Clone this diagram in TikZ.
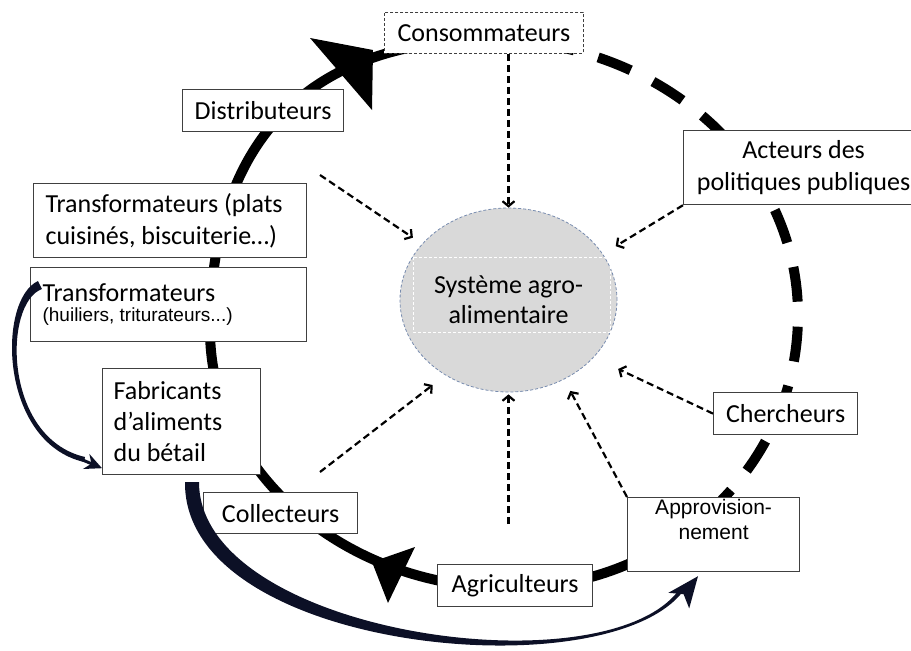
\documentclass[tikz,border=0pt]{standalone}
\usepackage{fontspec}
\setmainfont{Carlito}
\newfontfamily\arialfont{Liberation Sans}
\usetikzlibrary{arrows.meta,shapes.geometric}

\definecolor{sweepInk}{RGB}{12,16,38}
\definecolor{rimBlue}{RGB}{120,140,175}
\newcommand{\boxfont}{\fontsize{26}{32}\selectfont}

\tikzset{
  actor/.style={draw=black!75, line width=1.2pt, fill=white, anchor=north west,
    inner sep=0pt, align=center, font=\boxfont},
  influence/.style={line width=2.2pt, dash pattern=on 7pt off 4pt,
    -{Straight Barb[length=5pt,width=12pt]}},
  sweep/.style={fill=sweepInk},
  sweeptip/.style={draw=sweepInk, line width=3pt, -{Stealth[length=17pt,width=16pt]}},
}

\begin{document}
\begin{tikzpicture}[x=1pt,y=-1pt]
\useasboundingbox (0,0) rectangle (911,651);

% the chain loop, dashed on the right, solid on the left
\draw[line width=10pt, dash pattern=on 35pt off 25pt, dash phase=10pt]
  (490,40) .. controls (660,40) and (798,163) .. (798,315)
  .. controls (798,390.5) and (765.75,458.75) .. (713.6,508.1);
\draw[line width=10pt]
  (713.6,508.1) .. controls (661.5,557.5) and (589.5,588) .. (510,588)
  .. controls (344,588) and (210,471) .. (210,330)
  .. controls (210,140) and (310,40) .. (490,40);
\fill (310,38) -- (373,50) -- (372,110) -- cycle;
\fill (372,562) -- (415,547) -- (388,603) -- cycle;

% centre
\node[ellipse, minimum width=217pt, minimum height=184pt, inner sep=0pt,
  fill=black!15, draw=rimBlue, line width=0.8pt, densely dashed, align=center,
  font=\fontsize{26}{30}\selectfont] (sys) at (508.5,300) {Système agro-\\alimentaire};
\draw[white, densely dashed, line width=0.8pt] (413,257) rectangle (610,332);

% actors
\node[actor, densely dashed, line width=0.9pt, minimum width=199pt, minimum height=41pt]
  (conso) at (384,12) {Consommateurs};
\node[actor, minimum width=161pt, minimum height=42pt] (distri) at (182,89) {Distributeurs};
\node[actor, align=flush left, text width=249pt, inner xsep=12pt, minimum height=74pt]
  (transPlats) at (33,183) {Transformateurs (plats\\cuisinés, biscuiterie…)};
\node[actor, align=flush left, text width=252pt, inner xsep=12pt, minimum height=74pt,
  font=\fontsize{26}{20}\selectfont] (transHuile) at (30,267)
  {Transformateurs\\{\arialfont\fontsize{19}{20}\selectfont(huiliers, triturateurs...)}};
\node[actor, align=flush left, text width=136pt, inner xsep=11pt, minimum height=106pt,
  font=\fontsize{26}{31}\selectfont] (fab) at (102,368) {Fabricants\\d’aliments\\du bétail};
\node[actor, minimum width=154pt, minimum height=41pt] (collect) at (203,492) {Collecteurs};
\node[actor, minimum width=155pt, minimum height=42pt] (agri) at (437,564) {Agriculteurs};
\node[actor, minimum width=172pt, minimum height=74pt] (appro) at (627,497)
  {\parbox[c][74pt][t]{172pt}{\centering\vspace*{2pt}\arialfont\fontsize{21}{25}\selectfont Approvision-\\nement}};
\node[actor, minimum width=144pt, minimum height=42pt] (cher) at (713,392) {Chercheurs};
\node[actor, minimum width=240pt, minimum height=74pt] (acteurs) at (683,130)
  {Acteurs des\\politiques publiques};

% influences on the system
\coordinate (fromNW) at (320,175);
\coordinate (fromSW) at (320,472);
\coordinate (fromS) at (508.5,524);
\draw[influence] (conso.south -| sys.north) -- (sys.north);
\draw[influence, shorten >=11pt] (fromNW) -- (sys.147);
\draw[influence, shorten >=15pt] (acteurs.south west) -- (sys.26);
\draw[influence, shorten >=27pt] (cher.west) -- (sys.-34);
\draw[influence, shorten >=13pt] (appro.north west) -- (sys.-55);
\draw[influence, shorten >=2pt] (fromS) -- (sys.south);
\draw[influence, shorten >=16pt] (fromSW) -- (sys.230);

% by-products loops
\fill[sweep] (38,281) .. controls (-3,300) and (-1,442) .. (84,462)
  -- (85,457) .. controls (3,438) and (3,303) .. (42,289) -- cycle;
\draw[sweeptip] (78,458) -- ([yshift=7pt]fab.south west);
\fill[sweep] (185,482) .. controls (183,652) and (610,692) .. (684,590)
  -- (681,587) .. controls (612,692) and (199,635) .. (199,482) -- cycle;
\fill[sweep] ([xshift=71pt,yshift=-4pt]appro.south west) -- (689.2,608.4)
  -- (683.6,594.2) -- (668.4,592.8) -- cycle;
\end{tikzpicture}
\end{document}
